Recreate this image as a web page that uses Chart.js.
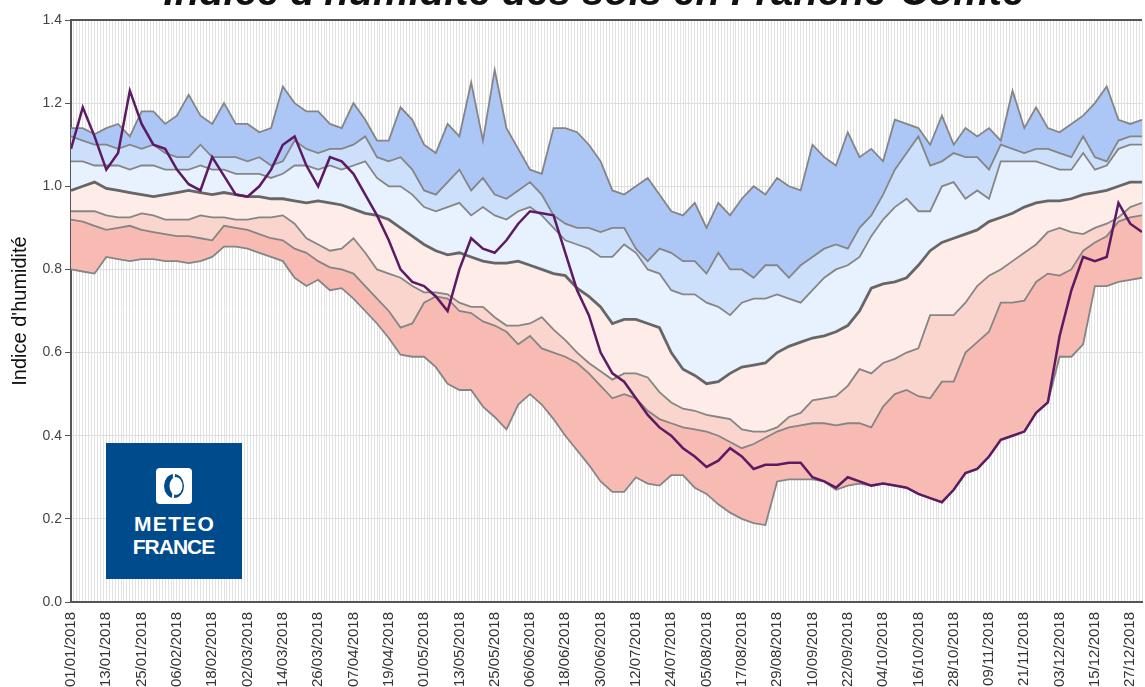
<!DOCTYPE html>
<html lang="fr">
<head>
<meta charset="utf-8">
<title>Indice d'humidité des sols en Franche-Comté</title>
<script src="https://cdn.jsdelivr.net/npm/chart.js@4.4.1/dist/chart.umd.min.js"></script>
<style>
  html, body { margin: 0; padding: 0; overflow: hidden; background: #fff; width: 1145px; height: 687px; }
  #wrap { position: absolute; left: 0; top: 0; width: 1170px; height: 700px; }
  #titre {
    position: absolute; top: -29px; left: 594px; transform: translateX(-50%);
    white-space: nowrap; font: italic bold 40px/40px "Liberation Sans", Arial, sans-serif; color: #111;
  }
  #logo {
    position: absolute; left: 106px; top: 443px; width: 136px; height: 136px;
    background: #004b8c; color: #fff; text-align: center;
    font-family: "Liberation Sans", Arial, sans-serif; font-weight: bold;
  }
  #logo svg { position: absolute; left: 50px; top: 25px; }
  #logo .l1 { position: absolute; left: 0; width: 136px; top: 69px; font-size: 21px; letter-spacing: 1.3px; text-indent: 1.3px; }
  #logo .l2 { position: absolute; left: 0; width: 136px; top: 92px; font-size: 21px; letter-spacing: -1px; text-indent: -1px; }
</style>
</head>
<body>
<div id="wrap"><canvas id="humidite" width="1170" height="700"></canvas></div>
<div id="titre">Indice d'humidité des sols en Franche-Comté</div>
<div id="logo">
  <svg width="36" height="36" viewBox="0 0 36 36">
    <rect x="0" y="0" width="36" height="36" rx="4" fill="#fff"/>
    <ellipse cx="18" cy="18" rx="10" ry="12" fill="#004b8c"/>
    <ellipse cx="20" cy="18" rx="6.5" ry="9" fill="#fff"/>
    <path d="M18 5 L17 31" stroke="#fff" stroke-width="2"/>
  </svg>
  <div class="l1">METEO</div>
  <div class="l2">FRANCE</div>
</div>
<script>
// jours depuis le 01/01/2018 (un point tous les 4 jours)
const days = [0, 4, 8, 12, 16, 20, 24, 28, 32, 36,
  40, 44, 48, 52, 56, 60, 64, 68, 72, 76,
  80, 84, 88, 92, 96, 100, 104, 108, 112, 116,
  120, 124, 128, 132, 136, 140, 144, 148, 152, 156,
  160, 164, 168, 172, 176, 180, 184, 188, 192, 196,
  200, 204, 208, 212, 216, 220, 224, 228, 232, 236,
  240, 244, 248, 252, 256, 260, 264, 268, 272, 276,
  280, 284, 288, 292, 296, 300, 304, 308, 312, 316,
  320, 324, 328, 332, 336, 340, 344, 348, 352, 356,
  360, 364];

const tickLabels = ['01/01/2018', '13/01/2018', '25/01/2018', '06/02/2018', '18/02/2018', '02/03/2018',
  '14/03/2018', '26/03/2018', '07/04/2018', '19/04/2018', '01/05/2018', '13/05/2018', '25/05/2018',
  '06/06/2018', '18/06/2018', '30/06/2018', '12/07/2018', '24/07/2018', '05/08/2018', '17/08/2018',
  '29/08/2018', '10/09/2018', '22/09/2018', '04/10/2018', '16/10/2018', '28/10/2018', '09/11/2018',
  '21/11/2018', '03/12/2018', '15/12/2018', '27/12/2018'];

const maxRec = [1.14, 1.14, 1.125, 1.14, 1.15, 1.12, 1.18, 1.18, 1.15, 1.17,
  1.22, 1.17, 1.15, 1.20, 1.15, 1.15, 1.13, 1.14, 1.24, 1.20,
  1.18, 1.18, 1.15, 1.14, 1.20, 1.16, 1.11, 1.11, 1.19, 1.16,
  1.10, 1.08, 1.15, 1.12, 1.25, 1.11, 1.28, 1.14, 1.09, 1.04,
  1.03, 1.14, 1.14, 1.13, 1.10, 1.06, 0.99, 0.98, 1.00, 1.02,
  0.98, 0.94, 0.93, 0.96, 0.90, 0.96, 0.93, 0.97, 1.00, 0.98,
  1.02, 1.00, 0.99, 1.10, 1.07, 1.05, 1.13, 1.07, 1.09, 1.06,
  1.16, 1.15, 1.14, 1.10, 1.17, 1.10, 1.14, 1.12, 1.14, 1.11,
  1.23, 1.14, 1.19, 1.14, 1.13, 1.15, 1.17, 1.20, 1.24, 1.16,
  1.15, 1.16];

const decile9 = [1.12, 1.11, 1.10, 1.10, 1.09, 1.10, 1.09, 1.10, 1.08, 1.07,
  1.07, 1.10, 1.07, 1.07, 1.07, 1.06, 1.07, 1.05, 1.06, 1.11,
  1.09, 1.08, 1.09, 1.09, 1.10, 1.12, 1.07, 1.06, 1.07, 1.04,
  0.99, 0.98, 1.01, 1.04, 0.99, 1.02, 0.98, 0.97, 0.99, 1.01,
  0.98, 0.93, 0.91, 0.90, 0.90, 0.89, 0.90, 0.90, 0.85, 0.82,
  0.85, 0.84, 0.82, 0.82, 0.79, 0.84, 0.80, 0.80, 0.78, 0.81,
  0.81, 0.78, 0.81, 0.83, 0.85, 0.86, 0.85, 0.90, 0.93, 0.98,
  1.04, 1.08, 1.12, 1.05, 1.06, 1.08, 1.07, 1.07, 1.04, 1.10,
  1.09, 1.08, 1.09, 1.09, 1.08, 1.07, 1.12, 1.07, 1.06, 1.11,
  1.12, 1.12];

const quint4 = [1.06, 1.06, 1.05, 1.05, 1.05, 1.04, 1.05, 1.05, 1.04, 1.04,
  1.04, 1.05, 1.04, 1.04, 1.03, 1.03, 1.03, 1.02, 1.03, 1.05,
  1.05, 1.04, 1.05, 1.04, 1.05, 1.06, 1.02, 1.00, 1.00, 0.98,
  0.95, 0.94, 0.95, 0.96, 0.93, 0.95, 0.93, 0.92, 0.94, 0.95,
  0.93, 0.90, 0.87, 0.86, 0.85, 0.83, 0.83, 0.86, 0.84, 0.80,
  0.79, 0.75, 0.74, 0.74, 0.72, 0.71, 0.69, 0.72, 0.73, 0.73,
  0.74, 0.73, 0.72, 0.75, 0.78, 0.80, 0.81, 0.83, 0.88, 0.92,
  0.95, 0.97, 0.94, 0.94, 1.00, 1.01, 0.97, 0.99, 0.97, 1.06,
  1.06, 1.06, 1.06, 1.05, 1.04, 1.04, 1.08, 1.04, 1.05, 1.09,
  1.10, 1.10];

const mediane = [0.99, 1.00, 1.01, 0.995, 0.99, 0.985, 0.98, 0.975, 0.98, 0.985,
  0.99, 0.985, 0.98, 0.985, 0.98, 0.975, 0.975, 0.97, 0.97, 0.965,
  0.96, 0.965, 0.96, 0.955, 0.945, 0.935, 0.93, 0.92, 0.90, 0.88,
  0.86, 0.845, 0.835, 0.84, 0.83, 0.82, 0.815, 0.815, 0.82, 0.81,
  0.80, 0.79, 0.785, 0.755, 0.735, 0.71, 0.67, 0.68, 0.68, 0.67,
  0.66, 0.60, 0.56, 0.545, 0.525, 0.53, 0.55, 0.565, 0.57, 0.575,
  0.60, 0.615, 0.625, 0.635, 0.64, 0.65, 0.665, 0.70, 0.755, 0.765,
  0.77, 0.78, 0.81, 0.845, 0.865, 0.875, 0.885, 0.895, 0.915, 0.925,
  0.935, 0.95, 0.96, 0.965, 0.965, 0.97, 0.98, 0.985, 0.99, 1.00,
  1.01, 1.01];

const quint2 = [0.94, 0.94, 0.94, 0.93, 0.925, 0.925, 0.935, 0.93, 0.92, 0.92,
  0.92, 0.93, 0.925, 0.925, 0.92, 0.92, 0.925, 0.925, 0.93, 0.91,
  0.875, 0.86, 0.845, 0.85, 0.875, 0.84, 0.80, 0.79, 0.78, 0.76,
  0.745, 0.745, 0.74, 0.72, 0.71, 0.71, 0.685, 0.665, 0.665, 0.67,
  0.685, 0.655, 0.63, 0.60, 0.575, 0.555, 0.535, 0.55, 0.55, 0.54,
  0.505, 0.48, 0.465, 0.46, 0.45, 0.445, 0.44, 0.415, 0.41, 0.41,
  0.42, 0.445, 0.455, 0.485, 0.49, 0.495, 0.52, 0.56, 0.55, 0.575,
  0.585, 0.60, 0.61, 0.69, 0.69, 0.69, 0.72, 0.76, 0.785, 0.80,
  0.82, 0.84, 0.86, 0.89, 0.90, 0.89, 0.885, 0.90, 0.91, 0.925,
  0.95, 0.96];

const decile1 = [0.92, 0.915, 0.905, 0.895, 0.90, 0.905, 0.895, 0.89, 0.885, 0.88,
  0.88, 0.875, 0.87, 0.905, 0.90, 0.895, 0.885, 0.875, 0.87, 0.85,
  0.84, 0.82, 0.805, 0.80, 0.79, 0.76, 0.73, 0.70, 0.66, 0.67,
  0.72, 0.735, 0.73, 0.70, 0.695, 0.675, 0.665, 0.65, 0.62, 0.64,
  0.61, 0.60, 0.59, 0.575, 0.55, 0.52, 0.49, 0.50, 0.49, 0.46,
  0.44, 0.43, 0.42, 0.415, 0.41, 0.40, 0.385, 0.37, 0.38, 0.395,
  0.41, 0.42, 0.425, 0.43, 0.43, 0.425, 0.43, 0.43, 0.42, 0.47,
  0.50, 0.51, 0.495, 0.49, 0.53, 0.53, 0.60, 0.625, 0.65, 0.72,
  0.72, 0.725, 0.77, 0.79, 0.785, 0.80, 0.845, 0.865, 0.88, 0.915,
  0.925, 0.93];

const minRec = [0.80, 0.795, 0.79, 0.83, 0.825, 0.82, 0.825, 0.825, 0.82, 0.82,
  0.815, 0.82, 0.83, 0.855, 0.855, 0.85, 0.84, 0.83, 0.82, 0.78,
  0.76, 0.775, 0.75, 0.755, 0.73, 0.70, 0.67, 0.635, 0.595, 0.59,
  0.59, 0.565, 0.525, 0.51, 0.51, 0.47, 0.445, 0.415, 0.475, 0.50,
  0.475, 0.44, 0.40, 0.365, 0.33, 0.29, 0.265, 0.265, 0.30, 0.285,
  0.28, 0.305, 0.305, 0.275, 0.26, 0.235, 0.215, 0.20, 0.19, 0.185,
  0.29, 0.295, 0.295, 0.295, 0.29, 0.27, 0.28, 0.285, 0.28, 0.285,
  0.28, 0.275, 0.26, 0.25, 0.24, 0.27, 0.31, 0.32, 0.35, 0.39,
  0.40, 0.41, 0.455, 0.48, 0.59, 0.59, 0.62, 0.76, 0.76, 0.77,
  0.775, 0.78];

const annee2018 = [1.09, 1.19, 1.12, 1.04, 1.08, 1.23, 1.15, 1.10, 1.09, 1.04,
  1.005, 0.99, 1.07, 1.025, 0.98, 0.975, 1.00, 1.04, 1.10, 1.12,
  1.05, 1.00, 1.07, 1.06, 1.03, 0.98, 0.93, 0.87, 0.80, 0.77,
  0.76, 0.735, 0.70, 0.80, 0.875, 0.85, 0.84, 0.87, 0.91, 0.94,
  0.935, 0.93, 0.84, 0.75, 0.69, 0.60, 0.55, 0.53, 0.49, 0.45,
  0.42, 0.40, 0.37, 0.35, 0.325, 0.34, 0.37, 0.35, 0.32, 0.33,
  0.33, 0.335, 0.335, 0.30, 0.29, 0.275, 0.30, 0.29, 0.28, 0.285,
  0.28, 0.275, 0.26, 0.25, 0.24, 0.27, 0.31, 0.32, 0.35, 0.39,
  0.40, 0.41, 0.455, 0.48, 0.64, 0.75, 0.83, 0.82, 0.83, 0.96,
  0.91, 0.89];

Chart.defaults.font.family = '"Liberation Sans", Arial, sans-serif';

// toutes les lignes verticales quotidiennes de la grille
const gridDays = [];
for (let d = 0; d <= 364; d++) gridDays.push({ value: d });

function serie(label, values, fillColor, lineColor, width) {
  return {
    label: label,
    data: days.map((d, i) => ({ x: d, y: values[i] })),
    borderColor: lineColor,
    borderWidth: width,
    backgroundColor: fillColor || 'transparent',
    fill: fillColor ? '+1' : false,
    pointRadius: 0,
    tension: 0
  };
}

// cadre du haut
const cadre = {
  id: 'cadre',
  beforeDatasetsDraw(c) {
    const a = c.chartArea, g = c.ctx;
    g.save();
    g.strokeStyle = '#555';
    g.lineWidth = 2;
    g.beginPath();
    g.moveTo(a.left, a.top);
    g.lineTo(a.right, a.top);
    g.stroke();
    g.restore();
  }
};

const datasets = [
  serie('Max', maxRec, 'rgb(172,198,245)', '#858585', 1.8),
  serie('Décile 9', decile9, 'rgb(204,224,252)', '#858585', 1.8),
  serie('Quintile 4', quint4, 'rgb(232,242,254)', '#858585', 1.8),
  serie('Médiane', mediane, 'rgb(253,236,232)', '#666', 2.8),
  serie('Quintile 2', quint2, 'rgb(250,213,205)', '#858585', 1.8),
  serie('Décile 1', decile1, 'rgb(248,187,179)', '#858585', 1.8),
  serie('Min', minRec, null, '#858585', 1.8)
];
const courant = serie('2018', annee2018, null, '#5c1a63', 2.5);
courant.order = -1;
datasets.push(courant);

const ctx = document.getElementById('humidite').getContext('2d');
const chart = new Chart(ctx, {
  type: 'line',
  data: { datasets: datasets },
  plugins: [cadre],
  options: {
    responsive: false,
    animation: false,
    devicePixelRatio: 1,
    layout: { padding: { top: 20, right: 18, left: 0, bottom: 0 } },
    plugins: {
      legend: { display: false },
      tooltip: { enabled: false },
      filler: { propagate: false, drawTime: 'beforeDatasetsDraw' }
    },
    scales: {
      x: {
        type: 'linear',
        min: 0,
        max: 364,
        afterBuildTicks: s => { s.ticks = gridDays.slice(); },
        afterFit: s => { s.height = 98; },
        ticks: {
          autoSkip: false,
          maxRotation: 90,
          minRotation: 90,
          padding: 10,
          color: '#333',
          font: { size: 15 },
          callback: v => (v % 12 === 0 ? tickLabels[v / 12] : '')
        },
        grid: { color: '#e2e2e2', drawTicks: false },
        border: { color: '#555', width: 2 }
      },
      y: {
        min: 0,
        max: 1.4,
        afterFit: s => { s.width = 71; },
        ticks: {
          stepSize: 0.2,
          padding: 3,
          color: '#444',
          font: { size: 14 },
          callback: v => v.toFixed(1)
        },
        grid: { color: '#dedede', tickLength: 6, tickColor: '#555' },
        border: { color: '#555', width: 2 },
        title: {
          display: true,
          text: "Indice d'humidité",
          color: '#111',
          font: { size: 20 },
          padding: { top: 8, bottom: 0 }
        }
      }
    }
  }
});
</script>
</body>
</html>
